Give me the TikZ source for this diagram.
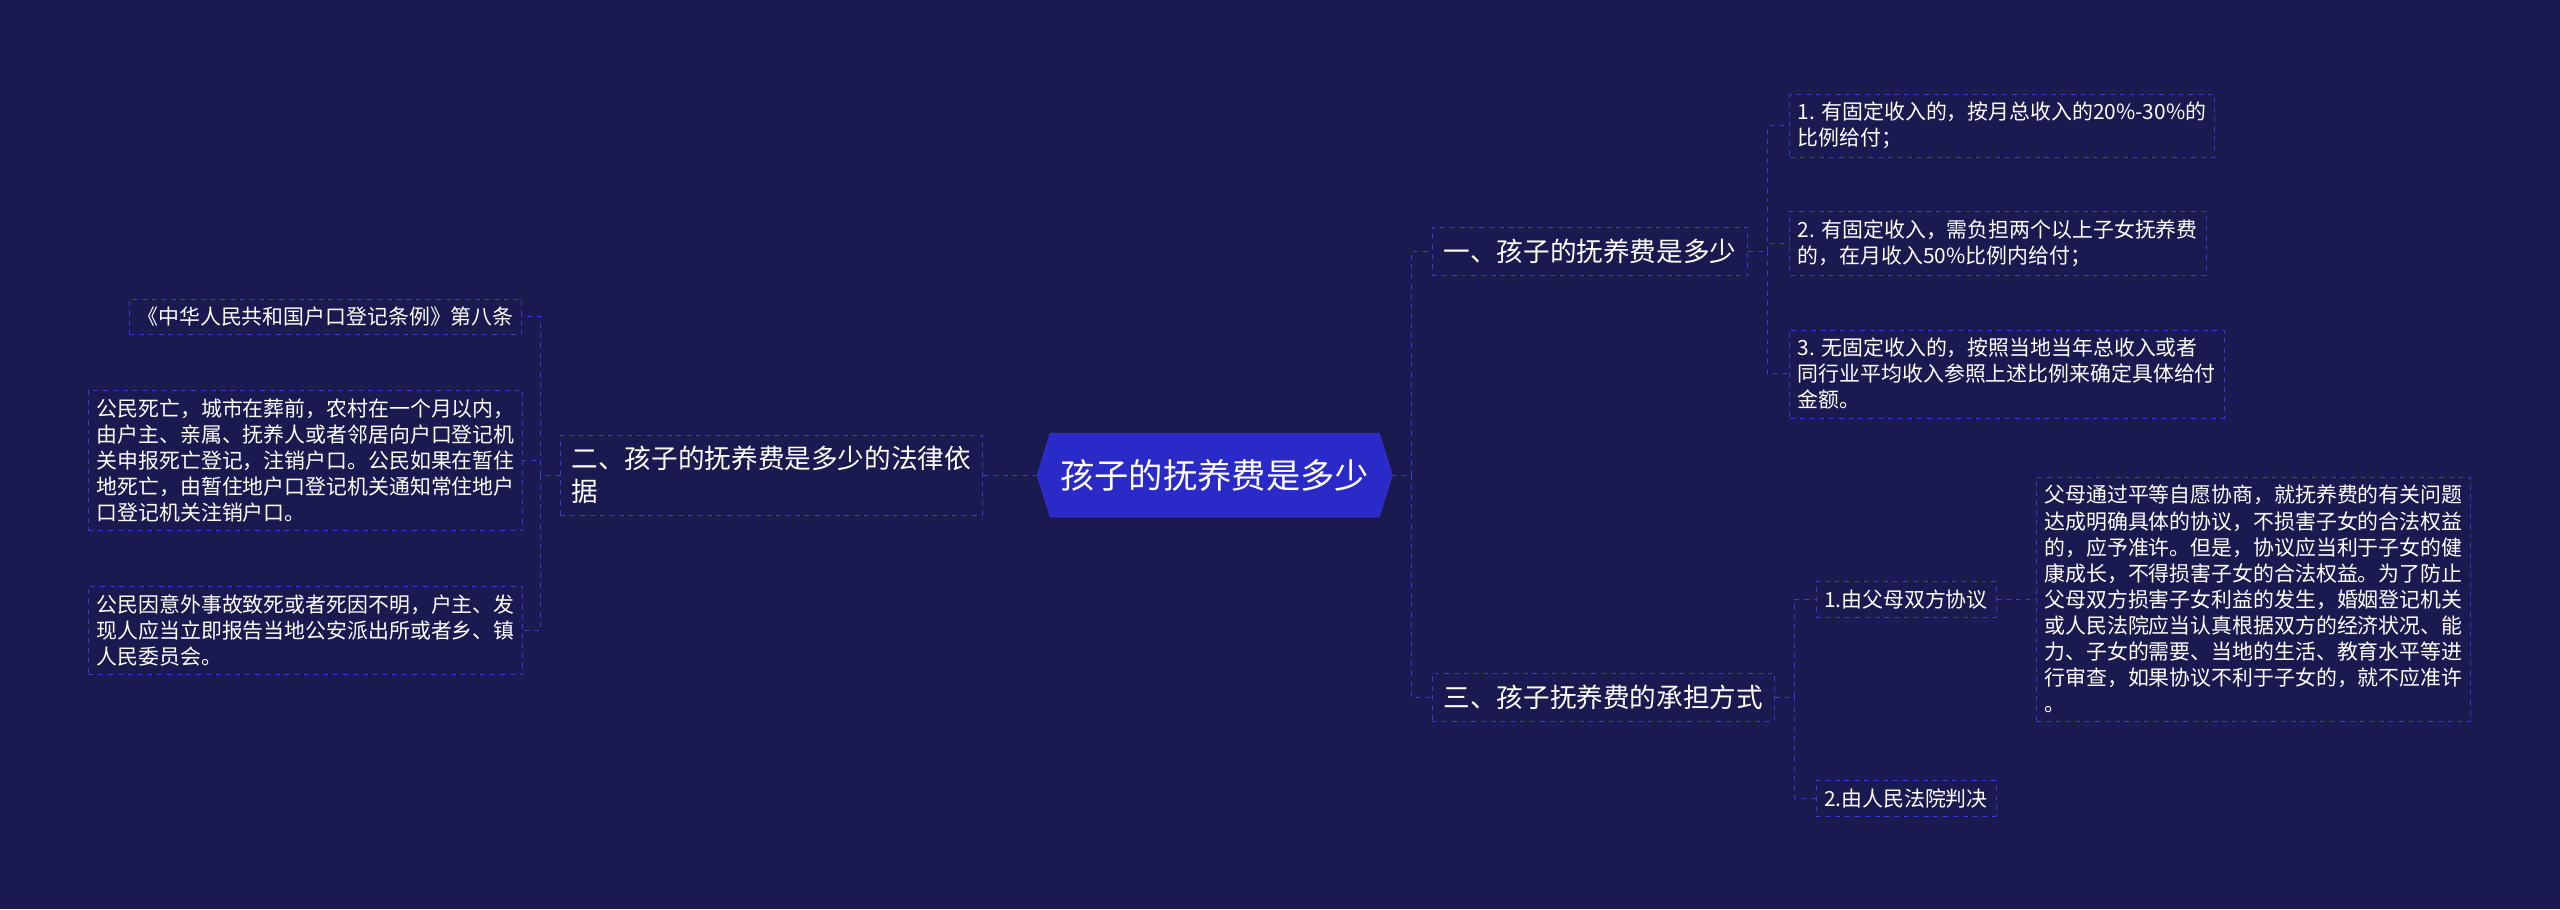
\documentclass[tikz,border=0pt]{standalone}
\usepackage{fontspec}
\setmainfont{Noto Sans CJK SC}
\definecolor{bgcol}{HTML}{1A1950}
\definecolor{linecol}{HTML}{3838D8}
\definecolor{rootcol}{HTML}{2A2AC8}
\tikzstyle{leaf}=[draw=linecol,dashed,text=white,align=left,inner sep=5pt,anchor=west,font=\fontsize{12.8}{16}\selectfont]
\tikzstyle{branch}=[draw=linecol,dashed,text=white,align=left,inner sep=7pt,anchor=west,font=\fontsize{16.3}{20}\selectfont]
\tikzstyle{link}=[draw=linecol,dashed,line width=0.7pt]

\begin{document}
\begin{tikzpicture}[x=1pt,y=-1pt]
	\fill[bgcol] (0,0) rectangle (1568,557);
	\useasboundingbox (0,0) rectangle (1568,557);

	% Mitte
	\node(root) at (744,291) [text=white,minimum width=201,minimum height=51,font=\fontsize{21}{24}\selectfont] {};
	\fill[rootcol,draw=linecol] (root.north west) -- (root.north east) -- ([xshift=8pt]root.east) -- (root.south east) -- (root.south west) -- ([xshift=-8pt]root.west) -- cycle;
	\node at (root) [text=white,font=\fontsize{21}{24}\selectfont] {孩子的抚养费是多少};

	% Linke Seite
	\node(law) at (343,291) [branch] {二、孩子的抚养费是多少的法律依\\据};
	\node(lawA) at (79,194) [leaf] {《中华人民共和国户口登记条例》第八条};
	\node(lawB) at (54,282) [leaf] {公民死亡，城市在葬前，农村在一个月以内，\\由户主、亲属、抚养人或者邻居向户口登记机\\关申报死亡登记，注销户口。公民如果在暂住\\地死亡，由暂住地户口登记机关通知常住地户\\口登记机关注销户口。};
	\node(lawC) at (54,386) [leaf] {公民因意外事故致死或者死因不明，户主、发\\现人应当立即报告当地公安派出所或者乡、镇\\人民委员会。};

	% Rechte Seite
	\node(amount) at (877,154) [branch] {一、孩子的抚养费是多少};
	\node(amtA) at (1096,77) [leaf] {1. 有固定收入的，按月总收入的20\%-30\%的\\比例给付；};
	\node(amtB) at (1096,149) [leaf] {2. 有固定收入，需负担两个以上子女抚养费\\的，在月收入50\%比例内给付；};
	\node(amtC) at (1096,229) [leaf] {3. 无固定收入的，按照当地当年总收入或者\\同行业平均收入参照上述比例来确定具体给付\\金额。};

	\node(way) at (877,427) [branch] {三、孩子抚养费的承担方式};
	\node(wayA) at (1112,367) [leaf] {1.由父母双方协议};
	\node(wayB) at (1112,489) [leaf] {2.由人民法院判决};
	\node(wayText) at (1247,367) [leaf] {父母通过平等自愿协商，就抚养费的有关问题\\达成明确具体的协议，不损害子女的合法权益\\的，应予准许。但是，协议应当利于子女的健\\康成长，不得损害子女的合法权益。为了防止\\父母双方损害子女利益的发生，婚姻登记机关\\或人民法院应当认真根据双方的经济状况、能\\力、子女的需要、当地的生活、教育水平等进\\行审查，如果协议不利于子女的，就不应准许\\。};

	\draw[link] ([xshift=-8pt]root.west) -- (law.east);
	\foreach \n in {lawA,lawB,lawC}
		\draw[link] (law.west) -- ++(-12,0) |- (\n.east);
	\foreach \n in {amount,way}
		\draw[link] ([xshift=8pt]root.east) -- ++(12,0) |- (\n.west);
	\foreach \n in {amtA,amtB,amtC}
		\draw[link] (amount.east) -- ++(12,0) |- (\n.west);
	\foreach \n in {wayA,wayB}
		\draw[link] (way.east) -- ++(12,0) |- (\n.west);
	\draw[link] (wayA.east) -- (wayText.west);
\end{tikzpicture}
\end{document}
